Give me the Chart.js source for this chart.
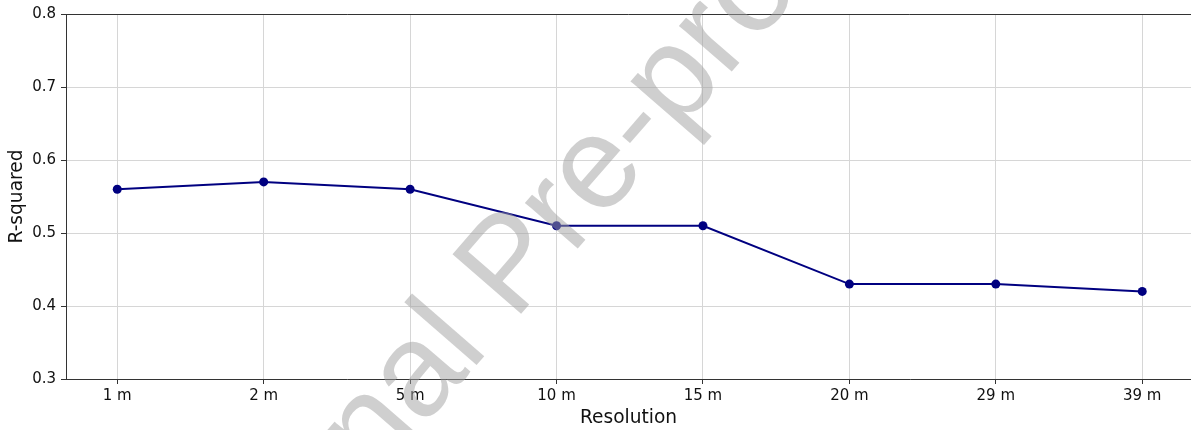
<!DOCTYPE html>
<html>
<head>
<meta charset="utf-8">
<script src="https://cdn.jsdelivr.net/npm/chart.js@4"></script>
<style>
  html, body { margin: 0; padding: 0; background: #fff; }
  #wrap { width: 1191px; height: 430px; position: relative; }
</style>
</head>
<body>
<div id="wrap"><canvas id="rsqChart"></canvas></div>
<script>
// chart values
const resolutions = ['1 m', '2 m', '5 m', '10 m', '15 m', '20 m', '29 m', '39 m'];
const rSquared = [0.56, 0.57, 0.56, 0.51, 0.51, 0.43, 0.43, 0.42];
const yTicks = [0.3, 0.4, 0.5, 0.6, 0.7, 0.8];

const FONT = "'DejaVu Sans', sans-serif";

// top spine + the watermark on top of everything
const framePlugin = {
    id: 'frame',
    afterDraw(chart) {
        const ctx = chart.ctx;
        const a = chart.chartArea;
        ctx.save();
        ctx.strokeStyle = '#333';
        ctx.lineWidth = 1;
        ctx.beginPath();
        ctx.moveTo(a.left, a.top + 0.5);
        ctx.lineTo(a.right, a.top + 0.5);
        ctx.stroke();
        ctx.restore();

        // "Journal Pre-proof" watermark
        ctx.save();
        ctx.font = "132px 'Liberation Sans', Arial, sans-serif";
        const ang = -49 * Math.PI / 180;
        const lead = ctx.measureText('Journal ').width;
        const px = 514, py = 322;
        const sx = px - lead * Math.cos(ang);
        const sy = py - lead * Math.sin(ang);
        ctx.translate(sx, sy);
        ctx.rotate(ang);
        ctx.fillStyle = 'rgba(160, 160, 160, 0.5)';
        ctx.textBaseline = 'alphabetic';
        ctx.fillText('Journal Pre-proof', 0, 0);
        ctx.restore();
    }
};

const ctx = document.getElementById('rsqChart').getContext('2d');
window.myChart = new Chart(ctx, {
    type: 'line',
    data: {
        datasets: [{
            label: 'R-squared',
            data: rSquared.map((v, i) => ({ x: i, y: v })),
            borderColor: '#000080',
            backgroundColor: '#000080',
            borderWidth: 2,
            pointRadius: 4.5,
            pointBorderWidth: 0,
            pointBackgroundColor: '#000080',
            tension: 0
        }]
    },
    options: {
        responsive: true,
        maintainAspectRatio: false,
        animation: false,
        layout: { autoPadding: false, padding: { top: 14, right: 0, left: 0, bottom: 0 } },
        plugins: {
            legend: { display: false },
            tooltip: { enabled: false }
        },
        scales: {
            x: {
                type: 'linear',
                min: -0.35,
                max: 7.333,
                afterBuildTicks: scale => {
                    scale.ticks = resolutions.map((r, i) => ({ value: i }));
                },
                afterFit: scale => {
                    scale.height = 51;
                    scale.paddingLeft = 0;
                    scale.paddingRight = 0;
                },
                ticks: {
                    autoSkip: false,
                    maxRotation: 0,
                    padding: 3,
                    color: '#111',
                    font: { family: FONT, size: 15 },
                    callback: value => resolutions[value]
                },
                grid: {
                    color: '#d6d6d6',
                    lineWidth: 1,
                    tickLength: 5,
                    tickColor: '#333'
                },
                border: { color: '#333', width: 1 },
                title: {
                    display: true,
                    text: 'Resolution',
                    color: '#111',
                    font: { family: FONT, size: 18.6 },
                    padding: { top: 0, bottom: 1 }
                }
            },
            y: {
                min: 0.3,
                max: 0.8,
                afterBuildTicks: scale => {
                    scale.ticks = yTicks.map(v => ({ value: v }));
                },
                afterFit: scale => {
                    scale.width = 66;
                    scale.paddingTop = 0;
                    scale.paddingBottom = 0;
                },
                ticks: {
                    padding: 5,
                    color: '#111',
                    font: { family: FONT, size: 15 },
                    callback: value => value.toFixed(1)
                },
                grid: {
                    color: '#d6d6d6',
                    lineWidth: 1,
                    tickLength: 5,
                    tickColor: '#333'
                },
                border: { color: '#333', width: 1 },
                title: {
                    display: true,
                    text: 'R-squared',
                    color: '#111',
                    font: { family: FONT, size: 18.6 },
                    padding: { top: 6, bottom: 0 }
                }
            }
        }
    },
    plugins: [framePlugin]
});
</script>
</body>
</html>
